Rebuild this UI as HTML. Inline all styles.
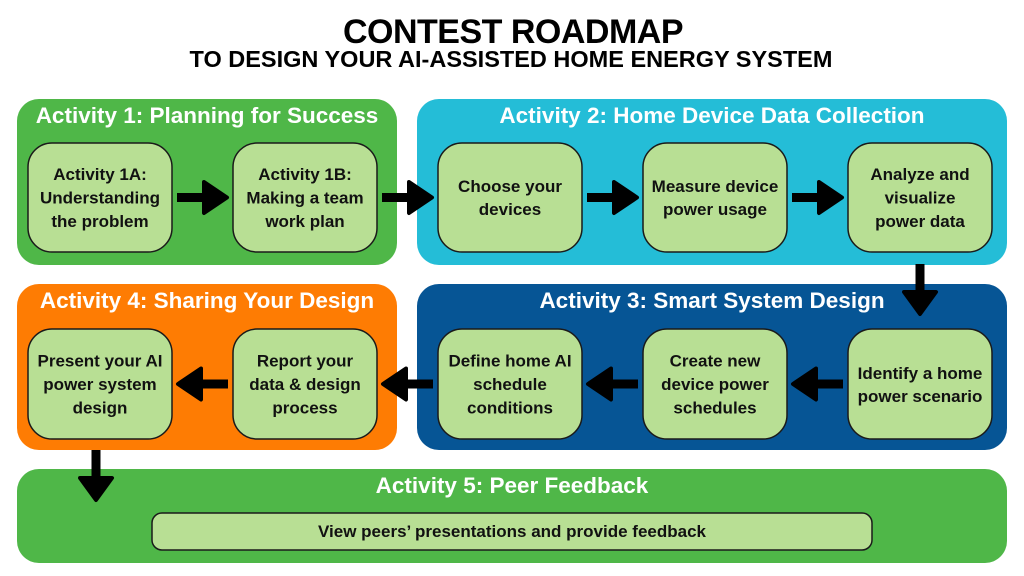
<!DOCTYPE html>
<html>
<head>
<meta charset="utf-8">
<style>
  html,body{margin:0;padding:0;background:#fff;}
  svg{display:block;}
  .t{font-family:"Liberation Sans",Arial,sans-serif;font-weight:bold;}
  .h{font-family:"Liberation Sans",Arial,sans-serif;font-weight:bold;font-size:22.5px;fill:#fff;text-anchor:middle;}
  .n{font-family:"Liberation Sans",Arial,sans-serif;font-weight:bold;font-size:17px;fill:#111;text-anchor:middle;}
  .node{fill:#b8df94;stroke:#1a1a1a;stroke-width:1.5;}
</style>
</head>
<body>
<svg width="1024" height="576" viewBox="0 0 1024 576" xmlns="http://www.w3.org/2000/svg">
  <rect width="1024" height="576" fill="#fff"/>

  <!-- Title -->
  <text class="t" x="513" y="43" font-size="34" text-anchor="middle" fill="#000" letter-spacing="-0.5">CONTEST ROADMAP</text>
  <text class="t" x="511" y="67" font-size="23.5" text-anchor="middle" fill="#000">TO DESIGN YOUR AI-ASSISTED HOME ENERGY SYSTEM</text>

  <!-- Panels -->
  <rect x="17" y="99" width="380" height="166" rx="22" fill="#4fb748"/>
  <rect x="417" y="99" width="590" height="166" rx="22" fill="#24bdd7"/>
  <rect x="17" y="284" width="380" height="166" rx="22" fill="#fe7c03"/>
  <rect x="417" y="284" width="590" height="166" rx="22" fill="#065595"/>
  <rect x="17" y="469" width="990" height="94" rx="22" fill="#4fb748"/>

  <!-- Panel headings -->
  <text class="h" x="207" y="123">Activity 1: Planning for Success</text>
  <text class="h" x="712" y="123">Activity 2: Home Device Data Collection</text>
  <text class="h" x="207" y="308">Activity 4: Sharing Your Design</text>
  <text class="h" x="712" y="308">Activity 3: Smart System Design</text>
  <text class="h" x="512" y="493">Activity 5: Peer Feedback</text>

  <!-- Row 1 nodes -->
  <rect class="node" x="28" y="143" width="144" height="109" rx="24"/>
  <rect class="node" x="233" y="143" width="144" height="109" rx="24"/>
  <rect class="node" x="438" y="143" width="144" height="109" rx="24"/>
  <rect class="node" x="643" y="143" width="144" height="109" rx="24"/>
  <rect class="node" x="848" y="143" width="144" height="109" rx="24"/>

  <!-- Row 2 nodes -->
  <rect class="node" x="28" y="329" width="144" height="110" rx="24"/>
  <rect class="node" x="233" y="329" width="144" height="110" rx="24"/>
  <rect class="node" x="438" y="329" width="144" height="110" rx="24"/>
  <rect class="node" x="643" y="329" width="144" height="110" rx="24"/>
  <rect class="node" x="848" y="329" width="144" height="110" rx="24"/>

  <!-- Bottom box -->
  <rect class="node" x="152" y="513" width="720" height="37" rx="10"/>

  <!-- Row 1 text -->
  <text class="n" x="100" y="180">Activity 1A:</text>
  <text class="n" x="100" y="203.5">Understanding</text>
  <text class="n" x="100" y="227">the problem</text>

  <text class="n" x="305" y="180">Activity 1B:</text>
  <text class="n" x="305" y="203.5">Making a team</text>
  <text class="n" x="305" y="227">work plan</text>

  <text class="n" x="510" y="192">Choose your</text>
  <text class="n" x="510" y="215">devices</text>

  <text class="n" x="715" y="192">Measure device</text>
  <text class="n" x="715" y="215">power usage</text>

  <text class="n" x="920" y="180">Analyze and</text>
  <text class="n" x="920" y="203.5">visualize</text>
  <text class="n" x="920" y="227">power data</text>

  <!-- Row 2 text -->
  <text class="n" x="100" y="366.5">Present your AI</text>
  <text class="n" x="100" y="390">power system</text>
  <text class="n" x="100" y="413.5">design</text>

  <text class="n" x="305" y="366.5">Report your</text>
  <text class="n" x="305" y="390">data &amp; design</text>
  <text class="n" x="305" y="413.5">process</text>

  <text class="n" x="510" y="366.5">Define home AI</text>
  <text class="n" x="510" y="390">schedule</text>
  <text class="n" x="510" y="413.5">conditions</text>

  <text class="n" x="715" y="366.5">Create new</text>
  <text class="n" x="715" y="390">device power</text>
  <text class="n" x="715" y="413.5">schedules</text>

  <text class="n" x="920" y="379">Identify a home</text>
  <text class="n" x="920" y="402">power scenario</text>

  <text class="n" x="512" y="537">View peers’ presentations and provide feedback</text>

  <!-- Arrows -->
  <g fill="#000" stroke="#000" stroke-width="4" stroke-linejoin="round">
    <!-- right arrows row 1 (y center 197.5) -->
    <rect x="177" y="193" width="28" height="9" stroke="none"/>
    <polygon points="204,182 227,197.5 204,213"/>
    <rect x="382" y="193" width="28" height="9" stroke="none"/>
    <polygon points="409,182 432,197.5 409,213"/>
    <rect x="587" y="193" width="28" height="9" stroke="none"/>
    <polygon points="614,182 637,197.5 614,213"/>
    <rect x="792" y="193" width="28" height="9" stroke="none"/>
    <polygon points="819,182 842,197.5 819,213"/>

    <!-- left arrows row 2 (y center 384) -->
    <rect x="815" y="379.5" width="28" height="9" stroke="none"/>
    <polygon points="816,368.5 793,384 816,399.5"/>
    <rect x="610" y="379.5" width="28" height="9" stroke="none"/>
    <polygon points="611,368.5 588,384 611,399.5"/>
    <rect x="405" y="379.5" width="28" height="9" stroke="none"/>
    <polygon points="406,368.5 383,384 406,399.5"/>
    <rect x="200" y="379.5" width="28" height="9" stroke="none"/>
    <polygon points="201,368.5 178,384 201,399.5"/>

    <!-- down arrows -->
    <rect x="915.5" y="264" width="9" height="29" stroke="none"/>
    <polygon points="904,292 920,314 936,292"/>
    <rect x="91.5" y="450" width="9" height="29" stroke="none"/>
    <polygon points="80,478 96,500 112,478"/>
  </g>
</svg>
</body>
</html>
